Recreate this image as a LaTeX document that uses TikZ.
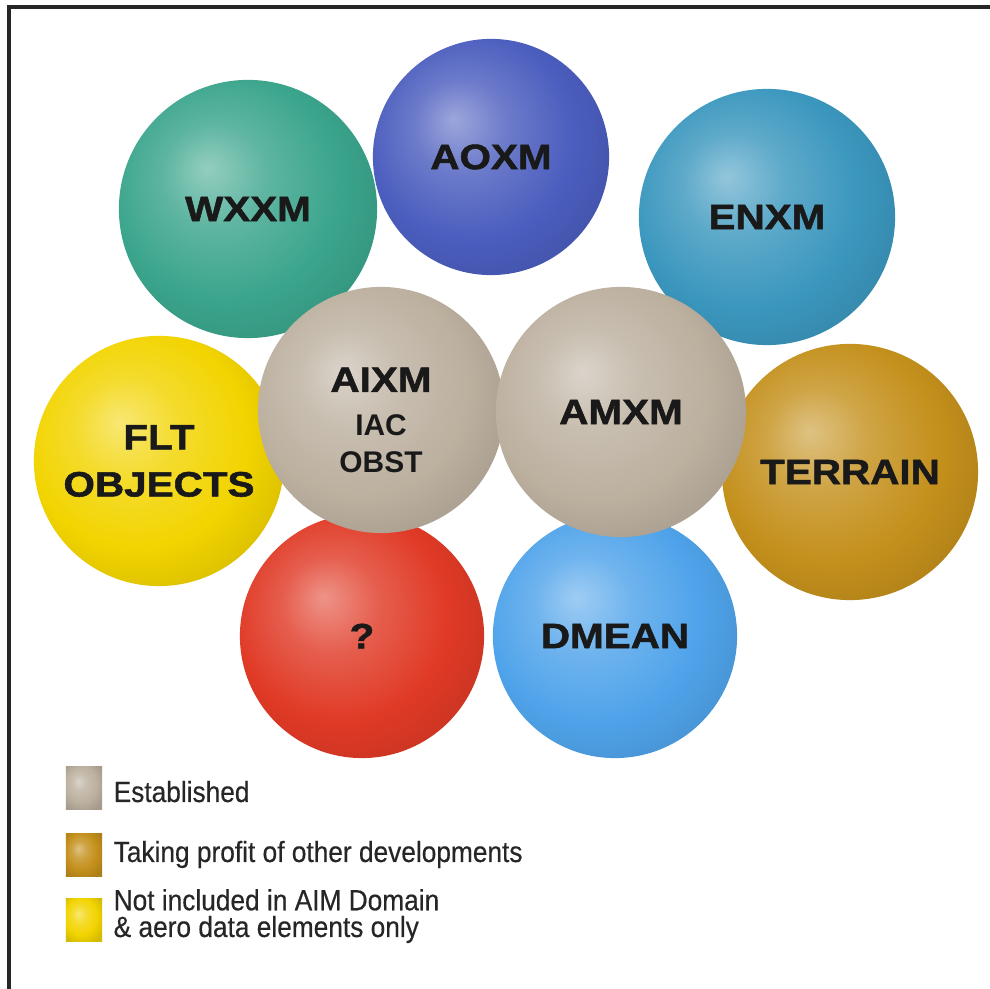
\documentclass[tikz,border=0pt]{standalone}
\usepackage{fontspec}
\setmainfont{Liberation Sans}
\newfontfamily\bubblefont[FakeStretch=1.15,FakeBold=1.5]{Liberation Sans Bold}
\newfontfamily\legendfont[FakeStretch=0.9,FakeBold=0.4]{Liberation Sans}
\newcommand{\subtag}[1]{{\normalfont\bfseries\fontsize{8.5}{11}\selectfont #1}}
\usepackage{tikz}
\usetikzlibrary{positioning}

\definecolor{wxxmcol}{HTML}{3BA58C}
\definecolor{aoxmcol}{HTML}{4B5DBE}
\definecolor{enxmcol}{HTML}{3B97BE}
\definecolor{fltcol}{HTML}{F2D400}
\definecolor{terraincol}{HTML}{C4901C}
\definecolor{unknowncol}{HTML}{E03A26}
\definecolor{dmeancol}{HTML}{4FA3EA}
\definecolor{aimcol}{HTML}{BCB09F}
\colorlet{sphcol}{gray}

% soft highlight up and left, a little darker at the rim
\pgfdeclareradialshading[sphcol]{glossy}{\pgfpoint{-8bp}{8bp}}{%
  color(0bp)=(sphcol!55!white);
  color(10bp)=(sphcol!82!white);
  color(22bp)=(sphcol);
  color(33bp)=(sphcol!88!black);
  color(50bp)=(sphcol!88!black)}

\tikzset{
  sphere color/.code = {\colorlet{sphcol}{#1}\tikzset{shading=glossy}},
  sphere/.style  = {circle, inner sep=0pt, align=center, text=black!90,
                    font=\bubblefont\fontsize{10}{13.4}\selectfont},
  legbox/.style  = {rectangle, inner sep=0pt, minimum width=0.36cm, minimum height=0.42cm},
  legtext/.style = {anchor=base west, inner sep=0pt, align=left, text=black!85,
                    font=\legendfont\fontsize{8.3}{7.6}\selectfont},
  frame/.style   = {draw=black!85, line width=1pt}
}

\begin{document}
\begin{tikzpicture}[x=0.01cm, y=-0.01cm]  % one unit = one pixel of the 990x989 sheet
  \useasboundingbox[fill=white] (0,0) rectangle (990,989);
  \draw[frame] (9,989) -- (9,7) -- (990,7);

  %  --  Outer ring of exchange models (drawn first, the grey pair sits on top)
  \foreach \nm/\px/\py/\rad/\col/\txt in {
      wxxm/248/209/129/wxxmcol/WXXM,
      aoxm/491/157/118/aoxmcol/AOXM,
      enxm/767/217/128/enxmcol/ENXM,
      flt/159/461/125/fltcol/{FLT\\OBJECTS},
      terrain/850/472/128/terraincol/TERRAIN,
      unknown/362/636/122/unknowncol/?,
      dmean/615/636/122/dmeancol/DMEAN}{
    \node[sphere, sphere color=\col, minimum size=\rad*0.02cm] (\nm) at (\px,\py) {\txt};
  }

  %  --  Established core
  \node[sphere, sphere color=aimcol, minimum size=2.46cm] (aixm) at (381,410)
    {\rule{0pt}{12.6pt}AIXM\\[-1pt]\subtag{IAC}\\[-3pt]\subtag{OBST}};
  \node[sphere, sphere color=aimcol, minimum size=2.50cm] (amxm) at (621,412) {AMXM};

  %  --  Legend
  \node[legbox, sphere color=aimcol]     (est)  at (84,788) {};
  \node[legbox, sphere color=terraincol] (prof) at (84,855) {};
  \node[legbox, sphere color=fltcol]     (excl) at (84,920) {};
  \node[legtext] (esttxt)  at (113,802) {Established};
  \node[legtext] (proftxt) at (113,862) {Taking profit of other developments};
  \node[legtext] (excltxt) at (113,937) {Not included in AIM Domain\\\& aero data elements only};
\end{tikzpicture}
\end{document}
